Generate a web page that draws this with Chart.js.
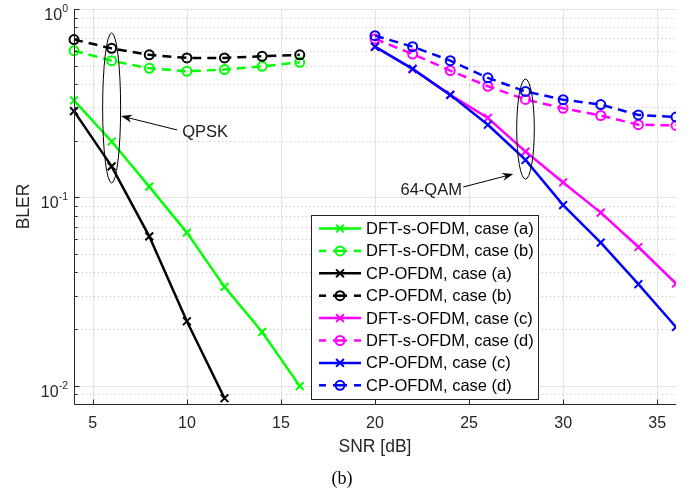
<!DOCTYPE html>
<html>
<head>
<meta charset="utf-8">
<script src="https://cdn.jsdelivr.net/npm/chart.js@4.4.1/dist/chart.umd.min.js"></script>
<style>
html,body{margin:0;padding:0;background:#fff;}
#wrap{width:694px;height:493px;}
</style>
</head>
<body>
<div id="wrap"><canvas id="chart" width="694" height="493"></canvas></div>
<script>

/* DATA */

const snrQpsk = [4, 6, 8, 10, 12, 14, 16];
const snrQpskCpA = [4, 6, 8, 10, 12];
const snr64 = [20, 22, 24, 26, 28, 30, 32, 34, 36];

const dftA = [0.327, 0.198, 0.114, 0.065, 0.0335, 0.0193, 0.00995];
const dftB = [0.601, 0.532, 0.484, 0.467, 0.477, 0.496, 0.521];
const cpA  = [0.287, 0.146, 0.0621, 0.022, 0.00858];
const cpB  = [0.688, 0.618, 0.571, 0.550, 0.550, 0.561, 0.571];
const dftC = [0.63, 0.48, 0.35, 0.264, 0.175, 0.120, 0.083, 0.0545, 0.0349];
const dftD = [0.694, 0.577, 0.471, 0.389, 0.331, 0.297, 0.272, 0.243, 0.241];
const cpC  = [0.631, 0.481, 0.35, 0.243, 0.158, 0.091, 0.0575, 0.0346, 0.0205];
const cpD  = [0.722, 0.631, 0.532, 0.431, 0.365, 0.330, 0.311, 0.274, 0.267];

const xTicks = [5, 10, 15, 20, 25, 30, 35];
const yTicks = [1, 0.1, 0.01];
const yTickExp = ["0", "-1", "-2"];

const xMin = 4, xMax = 36;
const yMin = 0.008, yMax = 1;

/* STYLE */

const axisColor = "#262626";
const font = "'Liberation Sans', Arial, Helvetica, sans-serif";

function series(label, xs, ys, color, dashed, marker){
    return {
        label: label,
        data: xs.map((x, i) => ({x: x, y: ys[i]})),
        borderColor: color,
        backgroundColor: color,
        borderWidth: 2.5,
        borderDash: dashed ? [9, 6] : [],
        pointStyle: marker,
        pointRadius: marker === "circle" ? 4.5 : 5.5,
        pointBorderWidth: 2,
        pointBorderColor: color,
        pointBackgroundColor: "rgba(0,0,0,0)",
        tension: 0,
        fill: false,
        clip: {left: 10, top: 10, right: 0, bottom: 0}
    };
}

const datasets = [
    series("DFT-s-OFDM, case (a)", snrQpsk, dftA, "#00ff00", false, "crossRot"),
    series("DFT-s-OFDM, case (b)", snrQpsk, dftB, "#00ff00", true, "circle"),
    series("CP-OFDM, case (a)", snrQpskCpA, cpA, "#000000", false, "crossRot"),
    series("CP-OFDM, case (b)", snrQpsk, cpB, "#000000", true, "circle"),
    series("DFT-s-OFDM, case (c)", snr64, dftC, "#ff00ff", false, "crossRot"),
    series("DFT-s-OFDM, case (d)", snr64, dftD, "#ff00ff", true, "circle"),
    series("CP-OFDM, case (c)", snr64, cpC, "#0000ff", false, "crossRot"),
    series("CP-OFDM, case (d)", snr64, cpD, "#0000ff", true, "circle")
];

// later series on top, like the original plot
datasets.forEach((d, i) => { d.order = datasets.length - i; });

/* ANNOTATIONS (data coordinates) */

const notes = [
    {cx: 6, yTop: 0.746, yBot: 0.1192, rx: 9,
     from: [9.48, 0.228], to: [6.5, 0.2704],
     text: "QPSK", at: [9.75, 0.22], align: "left"},
    {cx: 28, yTop: 0.425, yBot: 0.125, rx: 8.8,
     from: [24.69, 0.1135], to: [27.35, 0.133],
     text: "64-QAM", at: [24.62, 0.1094], align: "right"}
];

/* HELPERS */

function line(ctx, x0, y0, x1, y1){
    ctx.beginPath();
    ctx.moveTo(x0, y0);
    ctx.lineTo(x1, y1);
    ctx.stroke();
}

function yMinorTicks(){
    const out = [];
    for(let d = -3; d <= 0; d++){
        for(let m = 2; m <= 9; m++){
            const v = m * Math.pow(10, d);
            if(v > yMin * 1.0001 && v < yMax) out.push(v);
        }
    }
    return out;
}

function drawMarker(ctx, style, x, y, color){
    ctx.save();
    ctx.strokeStyle = color;
    ctx.lineWidth = 2;
    ctx.setLineDash([]);
    if(style === "circle"){
        ctx.beginPath();
        ctx.arc(x, y, 4.5, 0, Math.PI * 2);
        ctx.stroke();
    }else{
        const o = 5.5 * Math.SQRT1_2;
        line(ctx, x - o, y - o, x + o, y + o);
        line(ctx, x - o, y + o, x + o, y - o);
    }
    ctx.restore();
}

function drawArrow(ctx, x0, y0, x1, y1){
    const a = Math.atan2(y1 - y0, x1 - x0);
    const c = Math.cos(a), s = Math.sin(a);
    const len = 11, half = 4;
    line(ctx, x0, y0, x1 - c * 7, y1 - s * 7);
    ctx.beginPath();
    ctx.moveTo(x1, y1);
    ctx.lineTo(x1 - len * c + half * s, y1 - len * s - half * c);
    ctx.lineTo(x1 - 0.7 * len * c, y1 - 0.7 * len * s);
    ctx.lineTo(x1 - len * c - half * s, y1 - len * s + half * c);
    ctx.closePath();
    ctx.fill();
}

/* PLUGIN: matlab-like grid, axes, legend, labels */

const matlabLook = {
    id: "matlabLook",

    beforeDatasetsDraw(chart){
        const ctx = chart.ctx;
        const a = chart.chartArea;
        const xs = chart.scales.x, ys = chart.scales.y;
        ctx.save();
        ctx.lineWidth = 1;

        ctx.strokeStyle = "#c2c2c2";
        ctx.setLineDash([1, 3]);
        yMinorTicks().forEach(v => {
            const py = Math.round(ys.getPixelForValue(v)) + 0.5;
            line(ctx, a.left, py, a.right, py);
        });

        ctx.setLineDash([]);
        ctx.strokeStyle = "#e3e3e3";
        yTicks.forEach(v => {
            const py = Math.round(ys.getPixelForValue(v)) + 0.5;
            line(ctx, a.left, py, a.right, py);
        });
        xTicks.forEach(v => {
            const px = Math.round(xs.getPixelForValue(v)) + 0.5;
            line(ctx, px, a.top, px, a.bottom);
        });
        ctx.restore();
    },

    afterDatasetsDraw(chart){
        const ctx = chart.ctx;
        const a = chart.chartArea;
        const xs = chart.scales.x, ys = chart.scales.y;
        ctx.save();

        // annotations
        ctx.strokeStyle = "#000";
        ctx.fillStyle = "#000";
        ctx.lineWidth = 1;
        ctx.font = "16.5px " + font;
        ctx.textBaseline = "middle";
        notes.forEach(n => {
            const cx = xs.getPixelForValue(n.cx);
            const t = ys.getPixelForValue(n.yTop);
            const b = ys.getPixelForValue(n.yBot);
            ctx.beginPath();
            ctx.ellipse(cx, (t + b) / 2, n.rx, (b - t) / 2, 0, 0, Math.PI * 2);
            ctx.stroke();
            drawArrow(ctx,
                xs.getPixelForValue(n.from[0]), ys.getPixelForValue(n.from[1]),
                xs.getPixelForValue(n.to[0]), ys.getPixelForValue(n.to[1]));
            ctx.textAlign = n.align;
            ctx.fillStyle = "#1a1a1a";
            ctx.fillText(n.text, xs.getPixelForValue(n.at[0]), ys.getPixelForValue(n.at[1]));
            ctx.fillStyle = "#000";
        });

        // axes
        ctx.strokeStyle = axisColor;
        ctx.lineWidth = 1;
        const left = Math.round(a.left) + 0.5;
        const bottom = Math.round(a.bottom) + 0.5;
        line(ctx, left, a.top, left, bottom);
        line(ctx, left, bottom, a.right, bottom);
        xTicks.forEach(v => {
            const px = Math.round(xs.getPixelForValue(v)) + 0.5;
            line(ctx, px, bottom, px, bottom - 5);
        });
        yTicks.forEach(v => {
            const py = Math.round(ys.getPixelForValue(v)) + 0.5;
            line(ctx, left, py, left + 5, py);
        });
        yMinorTicks().forEach(v => {
            const py = Math.round(ys.getPixelForValue(v)) + 0.5;
            line(ctx, left, py, left + 3, py);
        });
        ctx.restore();
    },

    afterDraw(chart){
        const ctx = chart.ctx;
        const a = chart.chartArea;
        const ys = chart.scales.y;
        ctx.save();

        // y tick labels with exponents
        ctx.fillStyle = axisColor;
        ctx.textBaseline = "alphabetic";
        yTicks.forEach((v, i) => {
            const py = ys.getPixelForValue(v);
            ctx.font = "10.5px " + font;
            ctx.textAlign = "right";
            const supW = ctx.measureText(yTickExp[i]).width;
            ctx.fillText(yTickExp[i], 68, py + 3);
            ctx.font = "16px " + font;
            ctx.fillText("10", 68 - supW, py + 11);
        });

        // axis titles
        ctx.font = "17.5px " + font;
        ctx.textAlign = "center";
        ctx.textBaseline = "middle";
        ctx.fillText("SNR [dB]", (a.left + a.right) / 2, 447);
        ctx.save();
        ctx.translate(24, (a.top + a.bottom) / 2);
        ctx.rotate(-Math.PI / 2);
        ctx.fillText("BLER", 0, 0);
        ctx.restore();

        // caption
        ctx.fillStyle = "#000";
        ctx.font = "18px 'Liberation Serif', 'Times New Roman', serif";
        ctx.fillText("(b)", 342, 479);

        // legend
        const box = {x: 311, y: 215, w: 227, h: 184};
        ctx.fillStyle = "#fff";
        ctx.fillRect(box.x, box.y, box.w, box.h);
        ctx.strokeStyle = axisColor;
        ctx.lineWidth = 1;
        ctx.strokeRect(box.x + 0.5, box.y + 0.5, box.w, box.h);
        ctx.font = "16.5px " + font;
        ctx.textAlign = "left";
        ctx.textBaseline = "middle";
        chart.data.datasets.forEach((d, i) => {
            const cy = 228.5 + i * 22.4;
            ctx.strokeStyle = d.borderColor;
            ctx.lineWidth = 2.5;
            if(d.borderDash.length){
                ctx.setLineDash([]);
                line(ctx, 319, cy, 326, cy);
                line(ctx, 333, cy, 347, cy);
                line(ctx, 354, cy, 361, cy);
            }else{
                line(ctx, 319, cy, 361, cy);
            }
            drawMarker(ctx, d.pointStyle, 340, cy, d.borderColor);
            ctx.fillStyle = "#000";
            ctx.fillText(d.label, 366, cy + 1);
        });
        ctx.restore();
    }
};

/* CHART */

new Chart(document.getElementById("chart"), {
    type: "line",
    data: { datasets: datasets },
    options: {
        responsive: false,
        animation: false,
        devicePixelRatio: 1,
        layout: { padding: { top: 9, right: 18, left: 0, bottom: 0 } },
        plugins: {
            legend: { display: false },
            tooltip: { enabled: false }
        },
        scales: {
            x: {
                type: "linear",
                min: xMin,
                max: xMax,
                afterBuildTicks: s => { s.ticks = xTicks.map(v => ({value: v})); },
                afterFit: s => { s.height = 89; },
                grid: { display: false, drawTicks: false },
                border: { display: false },
                ticks: {
                    color: axisColor,
                    padding: 10,
                    maxRotation: 0,
                    font: { family: font, size: 16 }
                }
            },
            y: {
                type: "logarithmic",
                min: yMin,
                max: yMax,
                afterFit: s => { s.width = 74; },
                grid: { display: false, drawTicks: false },
                border: { display: false },
                ticks: { display: false }
            }
        }
    },
    plugins: [matlabLook]
});

</script>
</body>
</html>
